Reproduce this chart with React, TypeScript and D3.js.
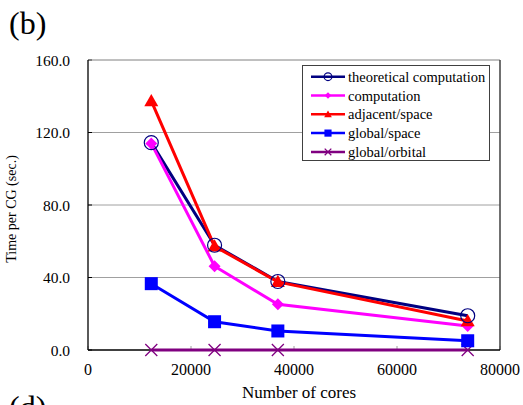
import React from "react";
import * as d3 from "d3";

const cores = [12288, 24576, 36864, 73728];
const theoretical = [114.4, 57.8, 37.8, 18.9];
const computation = [114.0, 46.2, 25.2, 13.2];
const adjacentSpace = [137.4, 57.2, 37.6, 16.0];
const globalSpace = [36.6, 15.6, 10.5, 5.1];
const globalOrbital = [0, 0, 0, 0];
const xTicks = [0, 20000, 40000, 60000, 80000];
const yTicks = [0, 40, 80, 120, 160];

const seriesNames = ["theoretical computation", "computation", "adjacent/space", "global/space", "global/orbital"];
const seriesColors = ["#000080", "#FF00FF", "#FF0000", "#0000FF", "#800080"];
const seriesMarkers = ["circle", "diamond", "triangle", "square", "x"];
const seriesValues = [theoretical, computation, adjacentSpace, globalSpace, globalOrbital];

const L = 88, R = 500, T = 60, B = 350;
const font = "'Liberation Serif', 'Times New Roman', serif";

function Marker({ type, x, y, color, s = 1 }: { type: string; x: number; y: number; color: string; s?: number }) {
  if (type === "circle") return <circle cx={x} cy={y} r={7 * s} fill="none" stroke={color} strokeWidth={1.2} />;
  if (type === "diamond") {
    const r = 6 * s;
    return <path d={`M${x},${y - r}L${x + r},${y}L${x},${y + r}L${x - r},${y}Z`} fill={color} />;
  }
  if (type === "triangle") {
    const r = 7 * s;
    return <path d={`M${x},${y - r}L${x + r},${y + r * 0.75}L${x - r},${y + r * 0.75}Z`} fill={color} />;
  }
  if (type === "square") {
    const r = 6.5 * s;
    return <rect x={x - r} y={y - r} width={2 * r} height={2 * r} fill={color} />;
  }
  const r = 6 * s;
  return <path d={`M${x - r},${y - r}L${x + r},${y + r}M${x - r},${y + r}L${x + r},${y - r}`} stroke={color} strokeWidth={1.3} fill="none" />;
}

export default function App() {
  const x = d3.scaleLinear().domain([0, 80000]).range([L, R]);
  const y = d3.scaleLinear().domain([0, 160]).range([B, T]);
  const line = d3.line<number>().x((_, i) => x(cores[i])).y((d) => y(d));
  const order = [0, 1, 2, 3, 4];
  const markerOrder = [4, 3, 1, 2, 0];
  return (
    <svg width={523} height={405} style={{ position: "absolute", left: 0, top: 0, background: "#fff" }} fontFamily={font}>
      <rect width={523} height={405} fill="#fff" />
      <text x={9} y={34} fontSize={32}>(b)</text>
      <text x={9} y={418} fontSize={32}>(d)</text>
      {yTicks.filter((t) => t > 0 && t < 160).map((t) => (
        <line key={t} x1={L} x2={R} y1={y(t)} y2={y(t)} stroke="#a0a0a0" strokeWidth={1} />
      ))}
      {yTicks.map((t) => (
        <g key={"yt" + t}>
          <line x1={L} x2={L + 4} y1={y(t)} y2={y(t)} stroke="#000" />
          <text x={70} y={y(t) + 5.5} fontSize={15.5} textAnchor="end">{t.toFixed(1)}</text>
        </g>
      ))}
      {xTicks.map((t) => (
        <g key={"xt" + t}>
          <line x1={x(t)} x2={x(t)} y1={B} y2={B - 4} stroke="#a0a0a0" />
          <text x={x(t)} y={375} fontSize={16} textAnchor="middle">{t}</text>
        </g>
      ))}
      <line x1={L} x2={R} y1={T} y2={T} stroke="#808080" />
      <line x1={R} x2={R} y1={T} y2={B} stroke="#404040" strokeWidth={1.5} />
      <line x1={L} x2={L} y1={T} y2={B} stroke="#000" strokeWidth={1.3} />
      <line x1={L} x2={R} y1={B} y2={B} stroke="#000" strokeWidth={1.3} />
      <text x={299} y={398} fontSize={17} textAnchor="middle">Number of cores</text>
      <text transform={`translate(16,209) rotate(-90)`} fontSize={14} textAnchor="middle">Time per CG  (sec.)</text>
      {order.map((i) => (
        <path key={"l" + i} d={line(seriesValues[i]) || ""} fill="none" stroke={seriesColors[i]} strokeWidth={3} />
      ))}
      {markerOrder.map((i) =>
        seriesValues[i].map((v, j) => (
          <Marker key={i + "-" + j} type={seriesMarkers[i]} x={x(cores[j])} y={y(v)} color={seriesColors[i]} />
        ))
      )}
      <rect x={302.5} y={65.5} width={187} height={95} fill="#fff" stroke="#404040" strokeWidth={1} />
      {seriesNames.map((n, i) => {
        const yy = 76.7 + i * 18.8;
        return (
          <g key={n}>
            <line x1={311} x2={345} y1={yy} y2={yy} stroke={seriesColors[i]} strokeWidth={2.5} />
            <Marker type={seriesMarkers[i]} x={328} y={yy} color={seriesColors[i]} s={0.55} />
            <text x={348} y={yy + 5} fontSize={14.5}>{n}</text>
          </g>
        );
      })}
    </svg>
  );
}
